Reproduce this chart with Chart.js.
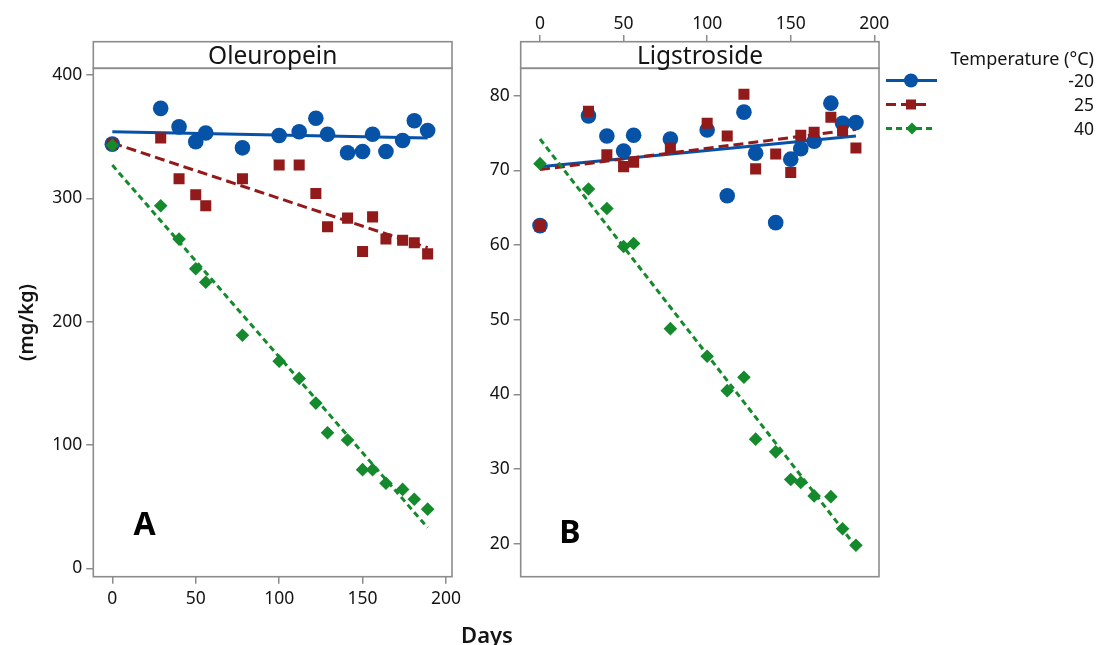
<!DOCTYPE html>
<html><head><meta charset="utf-8">
<script src="https://cdn.jsdelivr.net/npm/chart.js@4.4.1/dist/chart.umd.min.js"></script>
<style>
html,body{margin:0;padding:0;background:#fff;width:1101px;height:645px;overflow:hidden;font-family:"Noto Sans",sans-serif;}
canvas{position:absolute;left:0;top:0;}
.t{position:absolute;white-space:nowrap;color:#141414;line-height:1;}
.c{transform:translate(-50%,-50%);}
.r{transform:translateY(-50%);text-align:right;}
</style></head><body>
<canvas id="c1" width="1101" height="645"></canvas>
<canvas id="c2" width="1101" height="645"></canvas>
<div class="t c" style="left:272.7px;top:55px;font-size:24.5px;">Oleuropein</div>
<div class="t c" style="left:700px;top:55px;font-size:24.5px;">Ligstroside</div>
<div class="t c" style="left:487px;top:634px;font-size:22px;font-weight:600;">Days</div>
<div class="t c" style="left:144.5px;top:523px;font-size:32px;font-weight:700;color:#000;">A</div>
<div class="t c" style="left:570px;top:531px;font-size:32px;font-weight:700;color:#000;">B</div>
<div class="t r" style="right:7px;top:58px;font-size:18px;">Temperature (°C)</div>
<div class="t r" style="right:7px;top:81px;font-size:17.5px;">-20</div>
<div class="t r" style="right:7px;top:105px;font-size:17.5px;">25</div>
<div class="t r" style="right:7px;top:129px;font-size:17.5px;">40</div>
<script>
// ---- data ----
const days = [0, 29, 40, 50, 56, 78, 100, 112, 122, 129, 141, 150, 156, 164, 174, 181, 189];

const oleuNeg20 = [344, 373, 358, 346, 353, 341, 351, 354, 365, 352, 337, 338, 352, 338, 347, 363, 355];
const oleu25    = [344, 349, 316, 303, 294, 316, 327, 327, 304, 277, 284, 257, 285, 267, 266, 264, 255];
const oleu40    = [343, 294, 267, 243, 232, 189, 168, 154, 134, 110, 104, 80, 80, 69, 64, 56, 48];

const ligNeg20 = [62.6, 77.3, 74.6, 72.6, 74.7, 74.2, 75.4, 66.6, 77.8, 72.3, 63.0, 71.5, 72.9, 73.9, 79.0, 76.3, 76.4];
const lig25    = [62.6, 77.9, 72.1, 70.5, 71.1, 73.0, 76.3, 74.6, 80.2, 70.2, 72.2, 69.7, 74.7, 75.1, 77.1, 75.3, 73.0];
const lig40    = [70.9, 67.5, 64.9, 59.8, 60.2, 48.8, 45.1, 40.5, 42.3, 34.0, 32.3, 28.6, 28.2, 26.4, 26.3, 22.0, 19.8];

// fitted lines: [day, value] end points
const fitDays = [0, 189];
const oleuFitNeg20 = [354, 349];
const oleuFit25    = [345, 260];
const oleuFit40    = [327, 33];
const ligFitNeg20  = [70.5, 74.6];
const ligFit25     = [70.1, 75.5];
const ligFit40     = [74.2, 19.6];

const xTicks = [0, 50, 100, 150, 200];
const oleuYTicks = [0, 100, 200, 300, 400];
const ligYTicks = [20, 30, 40, 50, 60, 70, 80];

// ---- styles ----
const BLUE = '#0552a6', RED = '#921a1a', GREEN = '#148a2c';
const AXIS = '#8c8c8c';
const FONT = '"Noto Sans", sans-serif';
const TICKCOL = '#141414';

function pts(xs, ys){ return xs.map((x,i)=>({x:x, y:ys[i]})); }

function datasets(neg20, t25, t40, f20, f25, f40){
  return [
    {type:'scatter', data:pts(days,neg20), pointStyle:'circle', pointRadius:7.8, backgroundColor:BLUE, borderColor:BLUE, borderWidth:0, order:3},
    {type:'scatter', data:pts(days,t25), pointStyle:'rect', pointRadius:7.8, backgroundColor:RED, borderColor:RED, borderWidth:0, order:2},
    {type:'scatter', data:pts(days,t40), pointStyle:'rectRot', pointRadius:6.8, backgroundColor:GREEN, borderColor:GREEN, borderWidth:0, order:1},
    {type:'line', data:pts(fitDays,f20), borderColor:BLUE, borderWidth:3, pointRadius:0, fill:false, order:6},
    {type:'line', data:pts(fitDays,f25), borderColor:RED, borderWidth:3, borderDash:[10,5], pointRadius:0, fill:false, order:5},
    {type:'line', data:pts(fitDays,f40), borderColor:GREEN, borderWidth:3, borderDash:[6,4], pointRadius:0, fill:false, order:4}
  ];
}

const STRIP_TOP = 41.7;
function framePlugin(){
  return {
    id:'frame',
    afterDraw(chart){
      const {ctx, chartArea:a} = chart;
      ctx.save();
      ctx.fillStyle = '#fff';
      ctx.fillRect(a.left, STRIP_TOP, a.right-a.left, a.top-STRIP_TOP);
      ctx.strokeStyle = AXIS; ctx.lineWidth = 1.6;
      ctx.strokeRect(a.left, STRIP_TOP, a.right-a.left, a.top-STRIP_TOP);
      ctx.strokeRect(a.left, a.top, a.right-a.left, a.bottom-a.top);
      ctx.restore();
    }
  };
}

const legendPlugin = {
  id:'legendMarks',
  afterDraw(chart){
    const ctx = chart.ctx;
    ctx.save();
    ctx.lineWidth = 3;
    // -20
    ctx.strokeStyle = BLUE; ctx.setLineDash([]);
    ctx.beginPath(); ctx.moveTo(886,80.5); ctx.lineTo(937,80.5); ctx.stroke();
    ctx.fillStyle = BLUE; ctx.beginPath(); ctx.arc(911,80.5,7,0,Math.PI*2); ctx.fill();
    // 25
    ctx.strokeStyle = RED; ctx.setLineDash([10,5]);
    ctx.beginPath(); ctx.moveTo(886,104.5); ctx.lineTo(928,104.5); ctx.stroke();
    ctx.fillStyle = RED; ctx.fillRect(906,99.5,10,10);
    // 40
    ctx.strokeStyle = GREEN; ctx.setLineDash([6,4]);
    ctx.beginPath(); ctx.moveTo(886,128.5); ctx.lineTo(933,128.5); ctx.stroke();
    ctx.fillStyle = GREEN; ctx.beginPath();
    ctx.moveTo(912,122.5); ctx.lineTo(918,128.5); ctx.lineTo(912,134.5); ctx.lineTo(906,128.5); ctx.closePath(); ctx.fill();
    ctx.restore();
  }
};

function tickSetter(vals){ return function(s){ s.ticks = vals.map(v=>({value:v})); }; }

const tickFont = {family:FONT, size:17.5};

// ---- left chart: Oleuropein ----
new Chart(document.getElementById('c1'), {
  data:{datasets:datasets(oleuNeg20, oleu25, oleu40, oleuFitNeg20, oleuFit25, oleuFit40)},
  options:{
    responsive:false, animation:false, events:[],
    layout:{padding:{left:0, top:68.3, right:649, bottom:0}},
    plugins:{legend:{display:false}, tooltip:{enabled:false}},
    scales:{
      x:{type:'linear', position:'bottom', min:-11.4, max:203.6,
        afterBuildTicks:tickSetter(xTicks),
        afterFit(s){ s.height = 68.3; },
        border:{display:false},
        grid:{drawOnChartArea:false, drawTicks:true, tickLength:7, color:AXIS, lineWidth:1.5},
        ticks:{font:tickFont, color:TICKCOL, padding:5, maxRotation:0, autoSkip:false}
      },
      y:{type:'linear', position:'left', min:-6.8, max:405.5,
        afterBuildTicks:tickSetter(oleuYTicks),
        afterFit(s){ s.width = 93.3; },
        border:{display:false},
        grid:{drawOnChartArea:false, drawTicks:true, tickLength:7, color:AXIS, lineWidth:1.5},
        ticks:{font:tickFont, color:TICKCOL, padding:4, autoSkip:false},
        title:{display:true, text:'(mg/kg)', font:{family:FONT, size:20, weight:'600'}, color:'#141414', padding:{top:15, bottom:0}}
      }
    }
  },
  plugins:[framePlugin()]
});

// ---- right chart: Ligstroside ----
new Chart(document.getElementById('c2'), {
  data:{datasets:datasets(ligNeg20, lig25, lig40, ligFitNeg20, ligFit25, ligFit40)},
  options:{
    responsive:false, animation:false, events:[],
    layout:{padding:{left:0, top:0, right:222, bottom:68.3}},
    plugins:{legend:{display:false}, tooltip:{enabled:false}},
    scales:{
      x:{type:'linear', position:'top', min:-11.55, max:202.8,
        afterBuildTicks:tickSetter(xTicks),
        afterFit(s){ s.height = 68.3; },
        border:{display:false},
        grid:{drawOnChartArea:false, drawTicks:true, tickLength:33.3, color:AXIS, lineWidth:1.5},
        ticks:{font:tickFont, color:TICKCOL, padding:0, maxRotation:0, autoSkip:false}
      },
      y:{type:'linear', position:'left', min:15.58, max:83.67,
        afterBuildTicks:tickSetter(ligYTicks),
        afterFit(s){ s.width = 520.7; },
        border:{display:false},
        grid:{drawOnChartArea:false, drawTicks:true, tickLength:7, color:AXIS, lineWidth:1.5},
        ticks:{font:tickFont, color:TICKCOL, padding:4, autoSkip:false}
      }
    }
  },
  plugins:[framePlugin(), legendPlugin]
});
</script>
</body></html>
